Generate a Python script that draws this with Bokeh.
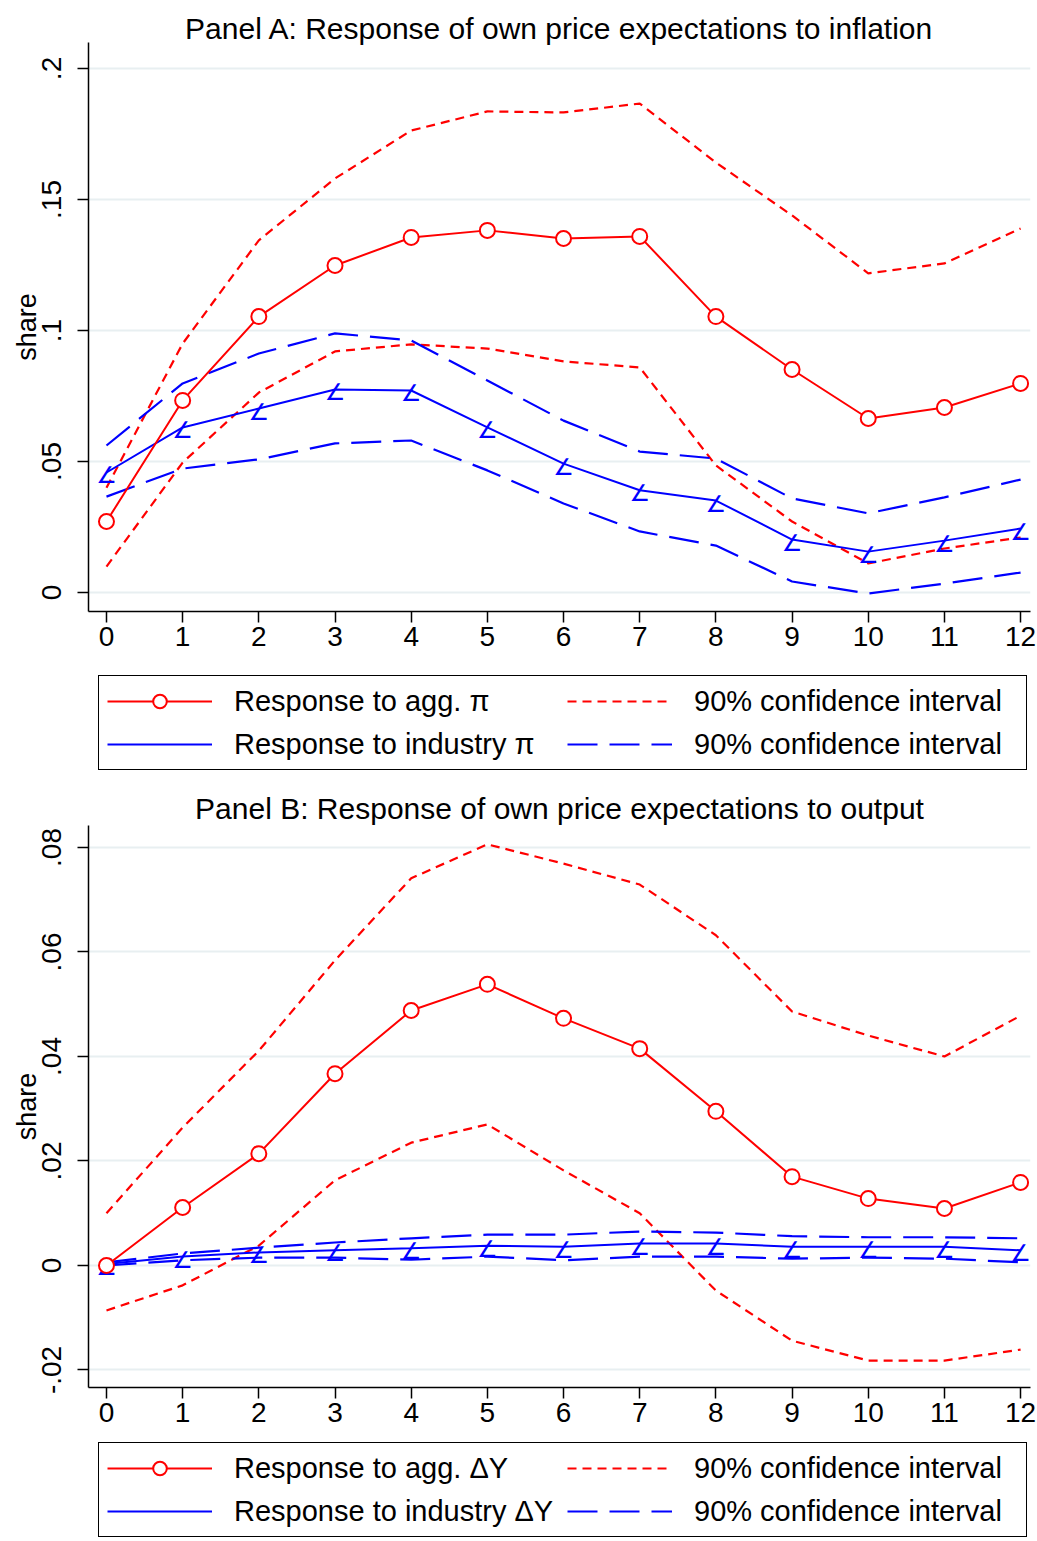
from bokeh.plotting import figure
from bokeh.models import FixedTicker, Legend, LegendItem, Range1d, ColumnDataSource
from bokeh.layouts import column
from bokeh.embed import file_html
from bokeh.resources import INLINE
from bokeh.core.properties import value

# ---------------- data ----------------
horizon = list(range(13))

# Panel A: response to inflation
a_agg    = [0.0271, 0.0733, 0.1053, 0.1248, 0.1355, 0.1382, 0.1351, 0.1359, 0.1053, 0.0851, 0.0664, 0.0706, 0.0798]
a_agg_hi = [0.0400, 0.0950, 0.1344, 0.1580, 0.1763, 0.1836, 0.1832, 0.1866, 0.1641, 0.1439, 0.1218, 0.1256, 0.1389]
a_agg_lo = [0.0099, 0.0496, 0.0763, 0.0920, 0.0947, 0.0931, 0.0882, 0.0859, 0.0485, 0.0271, 0.0111, 0.0168, 0.0210]
a_ind    = [0.0458, 0.0630, 0.0702, 0.0775, 0.0771, 0.0630, 0.0492, 0.0390, 0.0351, 0.0202, 0.0156, 0.0198, 0.0244]
a_ind_hi = [0.0561, 0.0798, 0.0912, 0.0989, 0.0962, 0.0809, 0.0656, 0.0538, 0.0511, 0.0359, 0.0302, 0.0363, 0.0431]
a_ind_lo = [0.0366, 0.0473, 0.0508, 0.0569, 0.0580, 0.0466, 0.0340, 0.0233, 0.0179, 0.0042, -0.0004, 0.0034, 0.0076]

# Panel B: response to output
b_agg    = [0.0000, 0.0111, 0.0214, 0.0367, 0.0488, 0.0538, 0.0473, 0.0415, 0.0295, 0.0170, 0.0128, 0.0109, 0.0159]
b_agg_hi = [0.0100, 0.0264, 0.0411, 0.0584, 0.0741, 0.0806, 0.0769, 0.0729, 0.0632, 0.0486, 0.0440, 0.0400, 0.0478]
b_agg_lo = [-0.0086, -0.0038, 0.0038, 0.0163, 0.0235, 0.0270, 0.0182, 0.0100, -0.0048, -0.0144, -0.0182, -0.0182, -0.0161]
b_ind    = [0.0003, 0.0017, 0.0025, 0.0029, 0.0033, 0.0038, 0.0036, 0.0042, 0.0042, 0.0036, 0.0036, 0.0036, 0.0029]
b_ind_hi = [0.0006, 0.0023, 0.0034, 0.0044, 0.0052, 0.0059, 0.0059, 0.0065, 0.0063, 0.0056, 0.0054, 0.0054, 0.0052]
b_ind_lo = [0.0000, 0.0010, 0.0015, 0.0015, 0.0011, 0.0017, 0.0010, 0.0017, 0.0017, 0.0013, 0.0015, 0.0013, 0.0006]

x_ticks = list(range(13))
a_yticks = [0, 0.05, 0.1, 0.15, 0.2]
a_ylabels = ["0", ".05", ".1", ".15", ".2"]
b_yticks = [-0.02, 0, 0.02, 0.04, 0.06, 0.08]
b_ylabels = ["-.02", "0", ".02", ".04", ".06", ".08"]

a_title = "Panel A: Response of own price expectations to inflation"
b_title = "Panel B: Response of own price expectations to output"
a_labels = ["Response to agg. \u03c0", "Response to industry \u03c0", "90% confidence interval", "90% confidence interval"]
b_labels = ["Response to agg. \u0394Y", "Response to industry \u0394Y", "90% confidence interval", "90% confidence interval"]

FONT = "Liberation Sans"
RED = "#ff0000"
BLUE = "#0000ff"


def draw_series(p, src, with_angle):
    r = {}
    r["agg_hi"] = p.line("x", "agg_hi", source=src, color=RED, line_width=2.2, line_dash="9 6")
    p.line("x", "agg_lo", source=src, color=RED, line_width=2.2, line_dash="9 6")
    r["ind_hi"] = p.line("x", "ind_hi", source=src, color=BLUE, line_width=2.2, line_dash="30 12")
    p.line("x", "ind_lo", source=src, color=BLUE, line_width=2.2, line_dash="30 12")
    r["ind"] = p.line("x", "ind", source=src, color=BLUE, line_width=2)
    if with_angle:
        p.text("x", "ind", source=src, text=value("\u2220"), text_color=BLUE,
               text_font=value("DejaVu Sans"), text_font_size="23px",
               text_align="center", text_baseline="alphabetic", y_offset=3)
    r["agg"] = p.line("x", "agg", source=src, color=RED, line_width=2)
    r["agg_m"] = p.scatter("x", "agg", source=src, marker="circle", size=15,
                           line_color=RED, line_width=2, fill_color="white")
    return r


def panel(title, agg, agg_hi, agg_lo, ind, ind_hi, ind_lo, yticks, ylabels, yr, labels,
          fheight, top, title_standoff, leg_h, leg_y):
    src = ColumnDataSource(dict(x=horizon, agg=agg, agg_hi=agg_hi, agg_lo=agg_lo,
                                ind=ind, ind_hi=ind_hi, ind_lo=ind_lo))
    p = figure(frame_width=942, frame_height=fheight,
               x_range=Range1d(-0.236, 12.13), y_range=Range1d(*yr),
               output_backend="svg", toolbar_location=None,
               min_border_left=88, min_border_right=7, min_border_top=top,
               min_border_bottom=46)
    p.outline_line_color = None
    p.background_fill_color = "white"
    p.border_fill_color = "white"

    p.title.text = title
    p.title.align = "center"
    p.title.text_font = FONT
    p.title.text_font_size = "30px"
    p.title.text_font_style = "normal"
    p.title.text_color = "black"
    p.title.standoff = title_standoff

    p.xgrid.grid_line_color = None
    p.ygrid.grid_line_color = "#e8eff1"
    p.ygrid.grid_line_width = 2
    p.xaxis.ticker = FixedTicker(ticks=x_ticks)
    p.yaxis.ticker = FixedTicker(ticks=yticks)
    p.yaxis.major_label_overrides = {t: l for t, l in zip(yticks, ylabels)}
    p.yaxis.major_label_orientation = "vertical"
    p.yaxis.axis_label = "share"
    p.yaxis.axis_label_text_font = FONT
    p.yaxis.axis_label_text_font_size = "27px"
    p.yaxis.axis_label_text_font_style = "normal"
    p.yaxis.axis_label_text_color = "black"
    p.yaxis.axis_label_standoff = -2
    for ax in (p.xaxis, p.yaxis):
        ax.major_label_text_font = FONT
        ax.major_label_text_font_size = "28px"
        ax.major_label_text_color = "black"
        ax.axis_line_color = "black"
        ax.axis_line_width = 1.5
        ax.major_tick_line_color = "black"
        ax.major_tick_line_width = 1.5
        ax.major_tick_in = 0
        ax.major_tick_out = 11
        ax.minor_tick_line_color = None
    p.xaxis.major_label_standoff = 4
    p.yaxis.major_label_standoff = 16

    draw_series(p, src, True)

    # legend strip: same series, ranges chosen so that only the legend shows
    lg = figure(frame_width=1037, frame_height=leg_h,
                x_range=Range1d(-200, -199), y_range=Range1d(-200, -199),
                output_backend="svg", toolbar_location=None,
                min_border_left=0, min_border_right=0, min_border_top=0, min_border_bottom=0,
                x_axis_location=None, y_axis_location=None)
    lg.outline_line_color = None
    lg.xgrid.visible = False
    lg.ygrid.visible = False
    r = draw_series(lg, src, False)
    items = [LegendItem(label=labels[0], renderers=[r["agg"], r["agg_m"]]),
             LegendItem(label=labels[1], renderers=[r["ind"]]),
             LegendItem(label=labels[2], renderers=[r["agg_hi"]]),
             LegendItem(label=labels[3], renderers=[r["ind_hi"]])]
    leg = Legend(items=items, ncols=2, location=(98, leg_y), orientation="vertical",
                 glyph_width=105, glyph_height=34, label_standoff=22, label_width=324,
                 spacing=9, padding=8, margin=0,
                 border_line_color="black", border_line_width=1.5, border_line_alpha=1,
                 label_text_font=FONT, label_text_font_size="29px", label_text_color="black",
                 background_fill_color="white", background_fill_alpha=1)
    lg.add_layout(leg)
    return p, lg


pA, lA = panel(a_title, a_agg, a_agg_hi, a_agg_lo, a_ind, a_ind_hi, a_ind_lo,
               a_yticks, a_ylabels, (-0.00725, 0.2099), a_labels, 569, 42, -5, 129, 16)
pB, lB = panel(b_title, b_agg, b_agg_hi, b_agg_lo, b_ind, b_ind_hi, b_ind_lo,
               b_yticks, b_ylabels, (-0.02335, 0.0842), b_labels, 562, 39, 2, 107, 3)

layout = column(pA, lA, pB, lB, spacing=0)
open("out.html", "w").write(file_html(layout, INLINE))
